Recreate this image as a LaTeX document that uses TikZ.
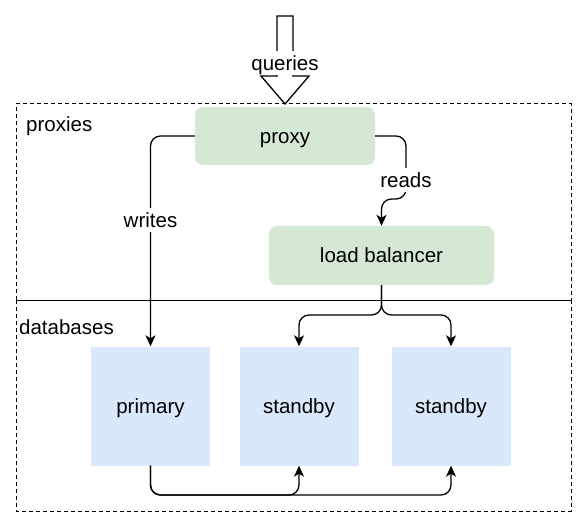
\documentclass[tikz,border=0pt]{standalone}
\usepackage{fontspec}
\setmainfont{Liberation Sans}
\usetikzlibrary{arrows.meta}
\definecolor{proxygreen}{HTML}{D5E8D4}
\definecolor{dbblue}{HTML}{DAE8FC}
\begin{document}
\begin{tikzpicture}[x=1bp,y=-1bp,
  every node/.style={font=\fontsize{20.5bp}{24bp}\selectfont, inner sep=0pt, text height=18.5bp, text depth=4.3bp},
  greenbox/.style={fill=proxygreen, rounded corners=8bp, minimum width=180bp, minimum height=58bp},
  bluebox/.style={fill=dbblue, minimum width=119bp, minimum height=119bp},
  conn/.style={line width=1.3bp, rounded corners=10bp},
  tip/.style={-{Stealth[length=11bp,width=10bp,inset=3bp]}},
  group/.style={draw, line width=1bp, dash pattern=on 4bp off 3bp},
  lbl/.style={fill=white, inner sep=0.5bp},
  grouplbl/.style={anchor=west}]
\useasboundingbox (0,0) rectangle (587,527);
% group boxes
\draw[group] (16,300) -- (16,104) -- (571,104) -- (571,300);
\draw[group] (16,300) -- (16,511) -- (571,511) -- (571,300);
\draw[line width=1bp] (16,300) -- (571,300);
\node[grouplbl] (proxieslbl) at (26,124) {proxies};
\node[grouplbl] (databaseslbl) at (19,327) {databases};
% nodes
\node[greenbox] (proxy) at (285,136) {proxy};
\node[greenbox, minimum width=225bp, minimum height=59bp] (lb) at (381.5,255.5) {load balancer};
\node[bluebox] (primary) at (150.5,406) {primary};
\node[bluebox] (sb1) at (299,406) {standby};
\node[bluebox] (sb2) at (451,406) {standby};
% queries arrow
\draw[line width=1.3bp, fill=white, line join=miter]
  (277,16) -- (293,16) -- (293,76) -- (309,76) -- (285,104) -- (261,76) -- (277,76) -- cycle;
\node[lbl] (queries) at (285,63) {queries};
% writes
\draw[conn,tip] (proxy.west) -| (primary.north);
\node[lbl] (writes) at (150.5,220) {writes};
% reads
\draw[conn,tip] (proxy.east) -- (406,136) -- (406,199) -| (lb.north);
\node[lbl] (reads) at (406,180) {reads};
% lb to standbys
\draw[conn,tip] (lb.south) -- (381.5,315) -| (sb1.north);
\draw[conn,tip] (lb.south) -- (381.5,315) -| (sb2.north);
% replication
\draw[conn,tip] (primary.south) -- (150.5,495) -| (sb1.south);
\draw[conn,tip] (primary.south) -- (150.5,495) -| (sb2.south);
\end{tikzpicture}
\end{document}
